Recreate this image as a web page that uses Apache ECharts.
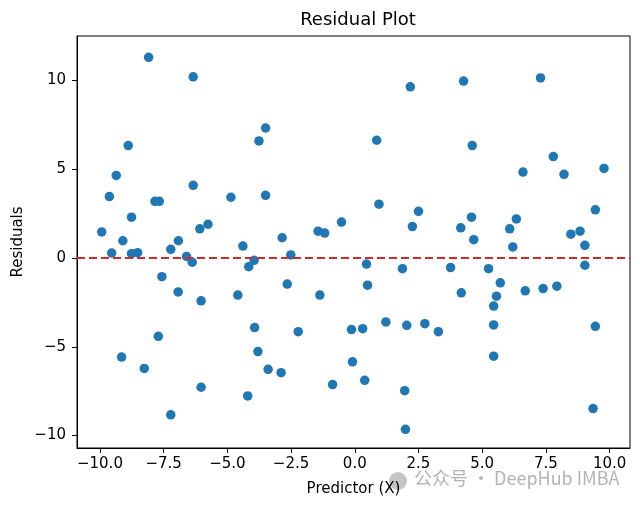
<!DOCTYPE html>
<html>
<head>
<meta charset="utf-8">
<script src="https://cdn.jsdelivr.net/npm/echarts@6/dist/echarts.min.js"></script>
<style>
  html, body { margin: 0; padding: 0; background: #fff; }
  #chart { width: 640px; height: 507px; }
</style>
</head>
<body>
<div id="chart"></div>
<script>
// residual scatter, values
const predictorX = [
  -8.09, -6.34, -3.50, -3.76, -8.89, -9.36, -9.63, -6.34, -7.84, -7.67,
  -4.86, -3.50, -8.76, -9.93, -9.10, -6.08, -5.76, -6.92, -4.39, -7.22,
  -9.54, -8.76, -8.52, -6.60, -6.38, -3.95, -4.16, -7.57, -6.93, -6.03,
  -4.59, -3.93, -3.80, -3.40, -7.71, -9.15, -8.26, -6.03, -4.20, -7.22,
  2.18, 4.27, 0.86, 0.95, 2.50, 2.26, 4.16, -0.52, -1.44, -1.18,
  -2.85, -2.51, 7.29, 4.61, 7.79, 6.60, 8.21, 9.78, 9.44, 4.58,
  4.67, 6.34, 6.08, 6.20, 8.48, 8.84, 9.03, 9.03, 3.76, 5.25,
  5.71, 5.56, 5.45, 5.45, 5.45, 4.18, 6.69, 7.39, 7.93, 9.44,
  9.35, 0.46, 1.87, -2.65, -1.37, 0.50, -2.89, -2.22, -0.13, 0.31,
  1.22, 2.04, 2.75, 3.28, -0.09, -0.87, 0.39, 1.96, 1.99
];
const residuals = [
  11.30, 10.20, 7.32, 6.59, 6.33, 4.65, 3.46, 4.09, 3.19, 3.19,
  3.42, 3.53, 2.30, 1.47, 0.97, 1.64, 1.90, 0.97, 0.67, 0.49,
  0.28, 0.24, 0.30, 0.09, -0.24, -0.13, -0.49, -1.05, -1.91, -2.41,
  -2.09, -3.92, -5.27, -6.27, -4.41, -5.58, -6.22, -7.28, -7.77, -8.83,
  9.64, 9.96, 6.63, 3.03, 2.63, 1.77, 1.70, 2.02, 1.51, 1.40,
  1.14, 0.17, 10.14, 6.33, 5.71, 4.84, 4.71, 5.04, 2.71, 2.30,
  1.03, 2.20, 1.64, 0.62, 1.34, 1.51, 0.71, -0.41, -0.54, -0.60,
  -1.40, -2.15, -2.71, -3.77, -5.53, -1.96, -1.85, -1.72, -1.59, -3.85,
  -8.48, -0.34, -0.60, -1.47, -2.09, -1.53, -6.46, -4.15, -4.03, -3.98,
  -3.60, -3.79, -3.70, -4.15, -5.85, -7.13, -6.89, -7.47, -9.65
];
const xTicks = [-10, -7.5, -5, -2.5, 0, 2.5, 5, 7.5, 10];
const yTicks = [-10, -5, 0, 5, 10];
const zeroLine = 0;

const points = predictorX.map((x, i) => [x, residuals[i]]);
const minus = s => String(s).replace('-', '\u2212');
const font = 'DejaVu Sans';

const chart = echarts.init(document.getElementById('chart'));

chart.setOption({
  animation: false,
  backgroundColor: '#fff',
  textStyle: { fontFamily: font },
  title: {
    text: 'Residual Plot',
    left: 353,
    textAlign: 'center',
    top: 6,
    textStyle: { fontFamily: font, fontSize: 18, fontWeight: 'normal', color: '#000' }
  },
  grid: {
    left: 77, right: 10, top: 36, bottom: 59,
    show: true, borderColor: '#000', borderWidth: 1
  },
  xAxis: {
    type: 'value',
    min: -10.9,
    max: 10.8,
    name: 'Predictor (X)',
    nameLocation: 'middle',
    nameGap: 34,
    nameMoveOverlap: false,
    nameTextStyle: { fontFamily: font, fontSize: 15, color: '#000' },
    axisLine: { show: true, onZero: false, lineStyle: { color: '#000', width: 1 } },
    axisTick: { show: true, length: 5, customValues: xTicks, lineStyle: { color: '#000' } },
    axisLabel: {
      customValues: xTicks,
      formatter: v => minus(v.toFixed(1)),
      fontFamily: font, fontSize: 15, color: '#000', margin: 9
    },
    splitLine: { show: false }
  },
  yAxis: {
    type: 'value',
    min: -10.7,
    max: 12.5,
    name: 'Residuals',
    nameLocation: 'middle',
    nameGap: 51,
    nameMoveOverlap: false,
    nameRotate: 90,
    nameTextStyle: { fontFamily: font, fontSize: 15, color: '#000' },
    axisLine: { show: true, onZero: false, lineStyle: { color: '#000', width: 1 } },
    axisTick: { show: true, length: 5, customValues: yTicks, lineStyle: { color: '#000' } },
    axisLabel: {
      customValues: yTicks,
      formatter: v => minus(v),
      fontFamily: font, fontSize: 15, color: '#000', margin: 11
    },
    splitLine: { show: false }
  },
  series: [
    {
      type: 'scatter',
      data: points,
      symbolSize: 9.5,
      itemStyle: { color: '#1f77b4', opacity: 1 },
      markLine: {
        silent: true,
        symbol: 'none',
        label: { show: false },
        lineStyle: { color: '#d62728', type: [8, 4], width: 2 },
        data: [{ yAxis: zeroLine }]
      },
      z: 3
    }
  ],
  graphic: [
    {
      type: 'circle',
      left: 389, top: 472,
      shape: { r: 9 },
      style: { fill: '#c4c4c4' }
    },
    {
      type: 'text',
      left: 414, top: 469,
      style: {
        text: '公众号 · DeepHub IMBA',
        fill: '#b4b4b4',
        font: '18px "Noto Sans CJK SC", "DejaVu Sans"'
      }
    }
  ]
});
</script>
</body>
</html>
